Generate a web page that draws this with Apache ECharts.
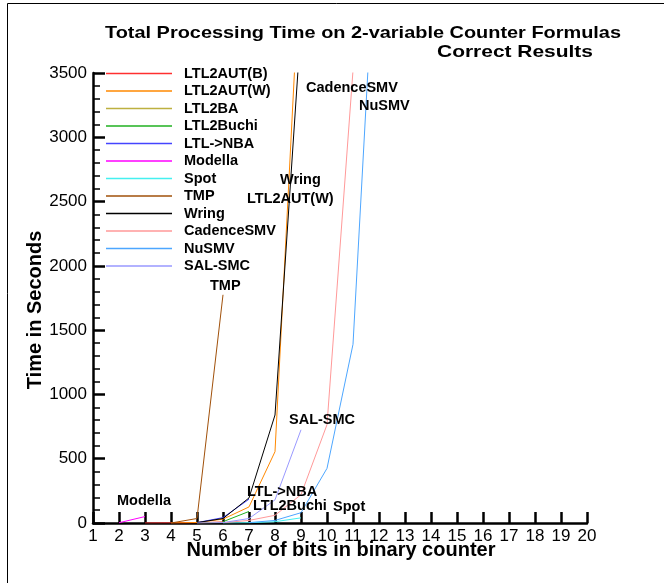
<!DOCTYPE html>
<html>
<head>
<meta charset="utf-8">
<script src="https://cdn.jsdelivr.net/npm/echarts@6/dist/echarts.min.js"></script>
<style>
html,body{margin:0;padding:0;background:#fff;}
#chart{width:664px;height:583px;}
</style>
</head>
<body>
<div id="chart"></div>
<script>
// ---- data ----
const bits = [1,2,3,4,5,6,7,8,9,10,11,12,13,14,15,16,17,18,19,20];
const seriesNames = ['LTL2AUT(B)','LTL2AUT(W)','LTL2BA','LTL2Buchi','LTL->NBA','Modella','Spot','TMP','Wring','CadenceSMV','NuSMV','SAL-SMC'];
const ltl2autB   = [null,null,0,1,2,8,null,null,null,null,null,null,null,null,null,null,null,null,null,null];
const ltl2autW   = [null,null,null,0,4,30,125,555,4500,null,null,null,null,null,null,null,null,null,null,null];
const ltl2ba     = [null,null,null,null,1,5,null,null,null,null,null,null,null,null,null,null,null,null,null,null];
const ltl2buchi  = [null,null,null,null,null,10,90,null,null,null,null,null,null,null,null,null,null,null,null,null];
const ltlNba     = [null,null,null,null,3,42,185,null,null,null,null,null,null,null,null,null,null,null,null,null];
const modella    = [null,2,50,null,null,null,null,null,null,null,null,null,null,null,null,null,null,null,null,null];
const spot       = [null,null,null,null,null,0,2,10,40,null,null,null,null,null,null,null,null,null,null,null];
const tmp        = [null,null,null,0,35,1775,null,null,null,null,null,null,null,null,null,null,null,null,null,null];
const wring      = [null,null,null,null,3,35,195,840,3870,null,null,null,null,null,null,null,null,null,null,null];
const cadenceSMV = [null,null,null,null,null,2,20,60,220,765,3520,null,null,null,null,null,null,null,null,null];
const nuSMV      = [null,null,null,null,null,null,3,20,80,425,1390,5100,null,null,null,null,null,null,null,null];
const salSMC     = [null,null,null,null,0,3,35,180,725,null,null,null,null,null,null,null,null,null,null,null];
const seriesValues = [ltl2autB,ltl2autW,ltl2ba,ltl2buchi,ltlNba,modella,spot,tmp,wring,cadenceSMV,nuSMV,salSMC];
const xMin = 1, xMax = 20, xStep = 1;
const yMin = 0, yMax = 3500, yStep = 500;
const titleText = 'Total Processing Time on 2-variable Counter Formulas';
const subtitleText = 'Correct Results';
const xTitle = 'Number of bits in binary counter';
const yTitle = 'Time in Seconds';
const annotationTexts = ['Modella','TMP','Wring','LTL2AUT(W)','CadenceSMV','NuSMV','SAL-SMC','LTL->NBA','LTL2Buchi','Spot'];

// ---- styles / layout ----
const colors = ['#ff3030','#ff8800','#bdb040','#20b020','#4444ff','#ff00ff','#44f0f0','#a0500a','#000000','#ff9999','#4da6ff','#9999ff'];
const annotationPos = [[117,501],[210,286],[280,180],[247,199],[306,88],[359,106],[289,420],[247,492],[253,506],[333,507]];
const FONT = 'Liberation Sans, Arial, sans-serif';
const TITLE_FONT = 'bold 17px ' + FONT;

// measure titles to stretch them to the reference widths
const ctx = document.createElement('canvas').getContext('2d');
ctx.font = TITLE_FONT;
const titleScale = 516 / ctx.measureText(titleText).width;
const subtitleScale = 156 / ctx.measureText(subtitleText).width;

const chart = echarts.init(document.getElementById('chart'), null, {renderer:'canvas'});

const series = seriesNames.map((name, i) => ({
  name: name,
  type: 'line',
  data: bits.map((b, j) => [b, seriesValues[i][j]]),
  showSymbol: false,
  symbol: 'none',
  connectNulls: false,
  clip: true,
  lineStyle: {width: 1, color: colors[i]},
  itemStyle: {color: colors[i]},
  emphasis: {disabled: true},
  animation: false
}));

const graphics = [
  {type:'rect', shape:{x:7.5, y:3.5, width:700, height:700}, style:{fill:'none', stroke:'#000', lineWidth:1}, silent:true},
  {type:'text', x:363, y:33, scaleX:titleScale, style:{text:titleText, font:TITLE_FONT, fill:'#000', textAlign:'center', textVerticalAlign:'middle'}},
  {type:'text', x:593, y:52, scaleX:subtitleScale, style:{text:subtitleText, font:TITLE_FONT, fill:'#000', textAlign:'right', textVerticalAlign:'middle'}},
  {type:'text', x:341, y:550, style:{text:xTitle, font:'bold 20px '+FONT, fill:'#000', textAlign:'center', textVerticalAlign:'middle'}},
  {type:'text', x:35, y:310, rotation:Math.PI/2, style:{text:yTitle, font:'bold 20px '+FONT, fill:'#000', textAlign:'center', textVerticalAlign:'middle'}}
];
annotationTexts.forEach((t, i) => {
  graphics.push({type:'text', x:annotationPos[i][0], y:annotationPos[i][1], z:10,
    style:{text:t, font:'bold 14.5px '+FONT, fill:'#000', textAlign:'left', textVerticalAlign:'middle'}});
});

chart.setOption({
  animation: false,
  backgroundColor: '#fff',
  grid: {left:93, top:73, right:77, bottom:60, containLabel:false},
  legend: {
    orient:'vertical', left:106, top:66, padding:0,
    icon:'rect', itemWidth:66, itemHeight:1.5, itemGap:2.5,
    data: seriesNames,
    textStyle:{fontFamily:FONT, fontSize:14.5, fontWeight:'bold', color:'#000', lineHeight:14, padding:[0,0,0,7]},
    selectedMode:false
  },
  xAxis: {
    type:'value', min:xMin, max:xMax, interval:xStep,
    axisLine:{show:true, onZero:false, lineStyle:{color:'#000', width:2.5}},
    axisTick:{show:true, inside:true, length:11, lineStyle:{color:'#000', width:2.5}},
    splitLine:{show:false},
    axisLabel:{color:'#000', fontSize:17, fontFamily:FONT, margin:5, formatter: v => String(v)}
  },
  yAxis: {
    type:'value', min:yMin, max:yMax, interval:yStep,
    axisLine:{show:true, lineStyle:{color:'#000', width:2.5}},
    axisTick:{show:true, inside:true, length:12, lineStyle:{color:'#000', width:2.5}},
    minorTick:{show:true, splitNumber:5, length:7, lineStyle:{color:'#000', width:1.5}},
    splitLine:{show:false},
    axisLabel:{color:'#000', fontSize:17, fontFamily:FONT, margin:6, formatter: v => String(v)}
  },
  graphic: graphics,
  series: series
});
</script>
</body>
</html>
